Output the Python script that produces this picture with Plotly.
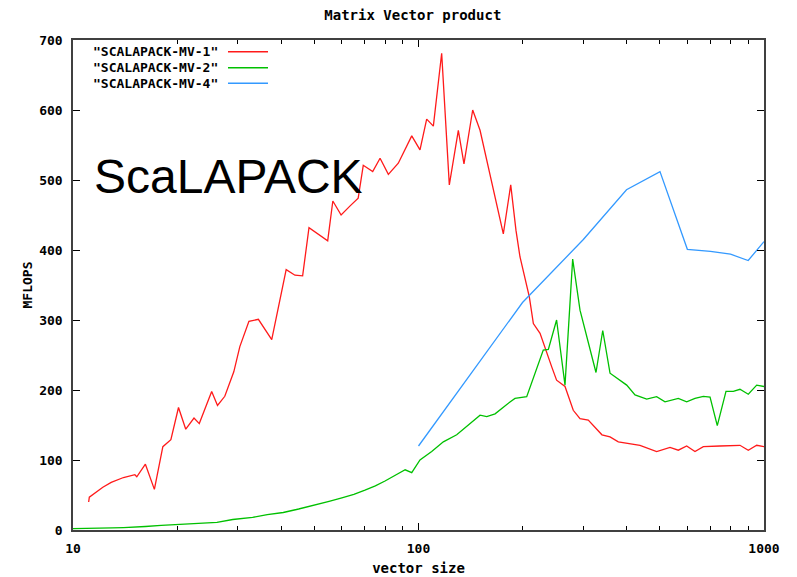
import plotly.graph_objects as go

# Matrix-vector product performance (MFLOPS) against vector size
mv1_size = [11.1, 11.15, 12.2, 12.9, 14.0, 15.1, 15.3, 16.2, 17.2, 18.2, 19.2, 20.2, 21.2, 22.4,
            23.2, 25.2, 26.2, 27.5, 29.2, 30.4, 32.3, 34.4, 37.6, 41.4, 43.9, 46.2, 48.2, 54.6,
            56.5, 59.7, 63.4, 66.9, 69.2, 73.7, 77.4, 81.8, 87.4, 95.6, 101, 105.6, 110.4, 116.7,
            122.8, 130.4, 135.4, 143.5, 150.7, 159.2, 176, 184.9, 191.5, 196.7, 205.7, 209.3,
            215, 224.8, 243, 251, 265.5, 280.5, 293.4, 310, 339.6, 358.4, 378.7, 437.6, 489,
            511, 534.5, 564.9, 597.3, 631.3, 667.4, 745.7, 852, 900.6, 952.5, 1000]
mv1_mflops = [40, 47, 61, 68, 75, 79, 76, 94, 58, 119, 129, 175, 144, 160,
              152, 198, 178, 191, 226, 262, 298, 301, 272, 372, 364, 363, 432, 413,
              470, 450, 463, 474, 521, 512, 531, 508, 524, 563, 543, 587, 577, 681,
              493, 571, 523, 600, 571, 519, 423, 493, 428, 390, 352, 333,
              295, 281, 233, 214, 205, 171, 159, 157, 136, 133, 126, 121, 112,
              115, 118, 114, 120, 112, 119, 120, 121, 114, 121, 119]

mv2_size = [10, 11, 12, 13, 14, 15, 16.2, 18, 20.6, 23, 26.1, 29, 33.1, 36.5, 40.6, 45, 49.8,
            55.1, 60, 65, 70, 75, 80, 85, 88.4, 91.5, 95.6, 101, 109.2, 118, 129, 137.9, 150.7,
            157.6, 166.6, 184, 190.2, 205.7, 229.7, 237.6, 251, 265.5, 279.4, 293.4, 326.4,
            341.4, 358.4, 400.5, 423.3, 457.6, 489, 517, 564.9, 597.3, 631.3, 667.4, 698,
            732.5, 776.2, 815, 852, 900.6, 952.5, 1000]
mv2_mflops = [2, 2, 2.5, 3, 3.5, 4, 5, 6.5, 8, 9.5, 11, 15, 18, 22, 25, 30, 35,
              41, 46, 51, 57, 63, 70, 77, 82, 86, 82, 100, 112, 126, 136, 148, 164,
              162, 166, 183, 188, 190.5, 257, 258, 300, 207, 387, 314, 225,
              285, 224, 207, 193, 187, 190.5, 183, 188, 183, 188, 191, 190,
              149, 198, 198, 201, 194, 207, 205]

mv4_size = [100, 200, 300, 400, 500, 600, 700, 800, 900, 1000]
mv4_mflops = [120, 325, 415, 486, 512, 401, 398, 394, 385, 412]

series_names = ['"SCALAPACK-MV-1"', '"SCALAPACK-MV-2"', '"SCALAPACK-MV-4"']
series_colors = ["#ff1a1a", "#00c000", "#3399ff"]

x_major = [10, 100, 1000]
x_minor = [20, 30, 40, 50, 60, 70, 80, 90, 200, 300, 400, 500, 600, 700, 800, 900]
y_ticks = [0, 100, 200, 300, 400, 500, 600, 700]

mono = "DejaVu Sans Mono"

fig = go.Figure()
for sx, sy, name, col in zip([mv1_size, mv2_size, mv4_size],
                             [mv1_mflops, mv2_mflops, mv4_mflops],
                             series_names, series_colors):
    fig.add_trace(go.Scatter(x=sx, y=sy, mode="lines", name=name,
                             line=dict(color=col, width=1.3), showlegend=False))

# gnuplot-style key: label followed by a short line sample
key_rows = [0.976, 0.9435, 0.9116]
for name, col, ky in zip(series_names, series_colors, key_rows):
    fig.add_annotation(xref="paper", yref="paper", x=0.2127, y=ky, text=name,
                       showarrow=False, xanchor="right", yanchor="middle",
                       font=dict(family=mono, size=13, color="black", weight="bold"))
    fig.add_shape(type="line", xref="paper", yref="paper", x0=0.2243, x1=0.2822,
                  y0=ky, y1=ky, line=dict(color=col, width=1.5))

fig.add_annotation(xref="paper", yref="paper", x=0.027, y=0.722, text="ScaLAPACK",
                   showarrow=False, xanchor="left", yanchor="middle",
                   font=dict(family="Liberation Sans", size=48, color="black"))

axis_common = dict(showgrid=False, zeroline=False, showline=True, linecolor="#404040",
                   linewidth=1.5, mirror="allticks", ticks="inside", tickcolor="black",
                   tickwidth=1, automargin=False,
                   tickfont=dict(family=mono, size=13, color="black", weight="bold"))

fig.update_xaxes(type="log", range=[1, 3], tickvals=x_major, ticktext=["10", "100", "1000"],
                 ticklen=7, ticklabelstandoff=6,
                 minor=dict(tickvals=x_minor, ticks="inside", ticklen=4, tickcolor="black"),
                 title=dict(text="vector size", standoff=8,
                            font=dict(family=mono, size=14, color="black", weight="bold")),
                 **axis_common)
fig.update_yaxes(range=[0, 700], tickvals=y_ticks, ticklen=7, ticklabelstandoff=6,
                 title=dict(text="MFLOPS", standoff=4,
                            font=dict(family=mono, size=13, color="black", weight="bold")),
                 **axis_common)

fig.update_layout(
    width=797, height=577,
    margin=dict(l=73, r=33, t=40, b=47, autoexpand=False),
    paper_bgcolor="white", plot_bgcolor="white",
    title=dict(text="Matrix Vector product", x=0.518, xanchor="center", y=0.974, yanchor="middle",
               font=dict(family=mono, size=14, color="black", weight="bold")),
)

fig.write_html("out.html")
